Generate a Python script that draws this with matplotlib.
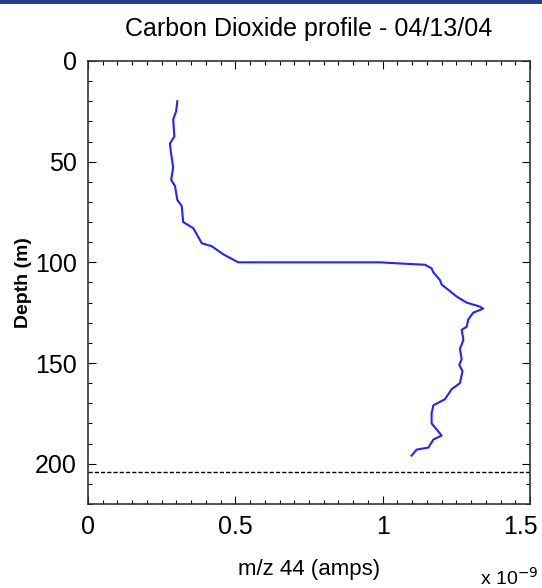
import matplotlib.pyplot as plt
from matplotlib.patches import Rectangle
from matplotlib.ticker import MultipleLocator
from matplotlib.transforms import ScaledTranslation

# CO2 profile
co2 = [0.303, 0.299, 0.289, 0.293, 0.278, 0.281, 0.289, 0.282, 0.295, 0.303,
       0.318, 0.323, 0.357, 0.386, 0.420, 0.459, 0.510, 0.991, 1.076, 1.144,
       1.166, 1.172, 1.194, 1.200, 1.251, 1.285, 1.330, 1.341, 1.307, 1.290,
       1.285, 1.268, 1.274, 1.262, 1.268, 1.260, 1.271, 1.262, 1.234, 1.211,
       1.172, 1.166, 1.166, 1.183, 1.200, 1.172, 1.155, 1.115, 1.104, 1.098]
depth = [20, 25, 29, 37.5, 41, 45, 53, 59, 62, 69,
         72, 80, 83, 90.5, 92, 96, 100, 100, 100.7, 101.2,
         103, 105, 108.7, 111, 117, 120, 122, 123, 125, 128.5,
         132, 133.5, 138.5, 143, 148, 151, 154, 160, 163, 168,
         171, 175, 180, 183, 186, 188, 192, 193, 195, 196]
bottom_depth = 204

plt.rcParams['font.family'] = ['Liberation Sans', 'DejaVu Sans']

fig = plt.figure(figsize=(5.42, 5.88), dpi=100)
fig.add_artist(Rectangle((0, 0.994), 1, 0.006, transform=fig.transFigure,
                         color='#2b3b8c', lw=0))
ax = fig.add_axes([0.1624, 0.1429, 0.8155, 0.7534])

ax.plot(co2, depth, color='#2323ff', lw=1.5)
ax.axhline(bottom_depth, color='black', lw=1.0, ls=(0, (3, 1.5)))

ax.set_xlim(0, 1.5)
ax.set_ylim(220, 0)
ax.xaxis.set_minor_locator(MultipleLocator(0.05))
ax.yaxis.set_major_locator(MultipleLocator(50))
ax.yaxis.set_minor_locator(MultipleLocator(10))
ax.set_xticks([0, 0.5, 1, 1.5])
ax.set_xticklabels(['0', '0.5', '1', '1.5'])
ax.tick_params(which='both', direction='in', top=True, right=True,
               labelsize=18, width=0.8)
ax.tick_params(which='major', length=6, pad=8)
ax.tick_params(which='minor', length=3)
for s in ax.spines.values():
    s.set_linewidth(1.2)
    s.set_color('#333333')

# keep the last x label inside the picture
last = ax.get_xticklabels()[-1]
last.set_transform(last.get_transform() + ScaledTranslation(-0.1, 0, fig.dpi_scale_trans))

ax.set_title('Carbon Dioxide profile - 04/13/04', fontsize=18, pad=18)
ax.set_xlabel('m/z 44 (amps)', fontsize=16, labelpad=14)
ax.set_ylabel('Depth (m)', fontsize=14, fontweight='bold', labelpad=2)
fig.text(0.885, 0.006, 'x 10$^{-9}$', fontsize=14)

fig.savefig('out.png', dpi=100)
